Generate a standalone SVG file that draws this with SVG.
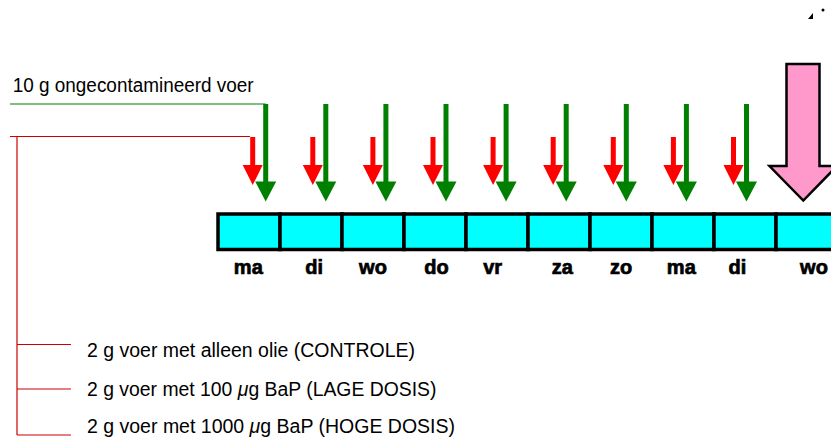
<svg xmlns="http://www.w3.org/2000/svg" width="831" height="438" viewBox="0 0 831 438">
  <style>
    .lbl { font-family: "Liberation Sans", Arial, sans-serif; font-size: 19.5px; fill: #000; }
    .day { font-family: "Liberation Sans", Arial, sans-serif; font-size: 20px; font-weight: bold; fill: #000; stroke: #000; stroke-width: 0.7; text-anchor: middle; }
    .mu { font-style: italic; }
    .gline { stroke: #008000; stroke-width: 1.2; fill: none; }
    .rline { stroke: #cc0000; stroke-width: 1.2; fill: none; }
    .gshaft { stroke: #008000; stroke-width: 5; }
    .rshaft { stroke: #ff0000; stroke-width: 5; }
    .cell { fill: #00ffff; stroke: #000; stroke-width: 3.5; }
  </style>
  <defs>
    <g id="greenArrow">
      <line class="gshaft" x1="0" y1="104" x2="0" y2="183"/>
      <polygon points="-10.5,181.5 10.5,181.5 0,201.5" fill="#008000"/>
    </g>
    <g id="redArrow">
      <line class="rshaft" x1="0" y1="137" x2="0" y2="166"/>
      <polygon points="-10,165 10,165 0,185" fill="#ff0000"/>
    </g>
  </defs>

  <rect width="831" height="438" fill="#fff"/>

  <!-- small mark in top right corner -->
  <g id="corner-mark">
    <polygon points="808,19 813,13 813,19" fill="#000"/>
    <circle cx="823" cy="10" r="1.5" fill="#000"/>
  </g>

  <!-- feed source labels -->
  <g id="uncontaminated-feed">
    <text class="lbl" x="12.7" y="91.7" textLength="241" lengthAdjust="spacingAndGlyphs">10 g ongecontamineerd voer</text>
  </g>
  <g id="feed-control">
    <text class="lbl" x="87" y="356.5" textLength="328" lengthAdjust="spacingAndGlyphs">2 g voer met alleen olie (CONTROLE)</text>
  </g>
  <g id="feed-low">
    <text class="lbl" x="87" y="395.5" textLength="349.5" lengthAdjust="spacingAndGlyphs">2 g voer met 100 <tspan class="mu">μ</tspan>g BaP (LAGE DOSIS)</text>
  </g>
  <g id="feed-high">
    <text class="lbl" x="87" y="432.5" textLength="368" lengthAdjust="spacingAndGlyphs">2 g voer met 1000 <tspan class="mu">μ</tspan>g BaP (HOGE DOSIS)</text>
  </g>

  <!-- timeline of days -->
  <g id="timeline">
    <rect class="cell" x="218" y="214" width="62" height="35.5"/>
    <rect class="cell" x="280" y="214" width="62" height="35.5"/>
    <rect class="cell" x="342" y="214" width="62" height="35.5"/>
    <rect class="cell" x="404" y="214" width="62" height="35.5"/>
    <rect class="cell" x="466" y="214" width="62" height="35.5"/>
    <rect class="cell" x="528" y="214" width="62" height="35.5"/>
    <rect class="cell" x="590" y="214" width="62" height="35.5"/>
    <rect class="cell" x="652" y="214" width="62" height="35.5"/>
    <rect class="cell" x="714" y="214" width="62" height="35.5"/>
    <rect class="cell" x="776" y="214" width="70" height="35.5"/>
    <text class="day" x="248.3" y="273.5">ma</text>
    <text class="day" x="314.2" y="273.5">di</text>
    <text class="day" x="373" y="273.5">wo</text>
    <text class="day" x="436.5" y="273.5">do</text>
    <text class="day" x="492.7" y="273.5">vr</text>
    <text class="day" x="562.2" y="273.5">za</text>
    <text class="day" x="621.2" y="273.5">zo</text>
    <text class="day" x="681.3" y="273.5">ma</text>
    <text class="day" x="737.5" y="273.5">di</text>
    <text class="day" x="814" y="273.5">wo</text>
  </g>

  <!-- final sampling arrow -->
  <g id="sampling-arrow">
    <polygon points="786.5,64 819.5,64 819.5,166 837,166 803.3,200.5 769.5,166 786.5,166" fill="#ff99cc" stroke="#000" stroke-width="2.5" stroke-linejoin="miter"/>
  </g>

  <!-- feeding connectors -->
  <g id="connectors">
    <polyline class="gline" points="10,104 265.7,104"/>
    <polyline class="rline" points="10,136.5 250,136.5"/>
    <polyline class="rline" points="17,136.5 17,435"/>
    <line class="rline" x1="17" y1="344.5" x2="71" y2="344.5"/>
    <line class="rline" x1="17" y1="389" x2="71" y2="389"/>
    <line class="rline" x1="17" y1="435" x2="71" y2="435"/>

    <use href="#redArrow" x="252.7"/>
    <use href="#redArrow" x="312.8"/>
    <use href="#redArrow" x="372.9"/>
    <use href="#redArrow" x="433"/>
    <use href="#redArrow" x="493.1"/>
    <use href="#redArrow" x="553.2"/>
    <use href="#redArrow" x="613.3"/>
    <use href="#redArrow" x="673.4"/>
    <use href="#redArrow" x="733.5"/>

    <use href="#greenArrow" x="265.7"/>
    <use href="#greenArrow" x="325.8"/>
    <use href="#greenArrow" x="385.9"/>
    <use href="#greenArrow" x="446"/>
    <use href="#greenArrow" x="506.1"/>
    <use href="#greenArrow" x="566.2"/>
    <use href="#greenArrow" x="626.3"/>
    <use href="#greenArrow" x="686.4"/>
    <use href="#greenArrow" x="746.5"/>
  </g>
</svg>
